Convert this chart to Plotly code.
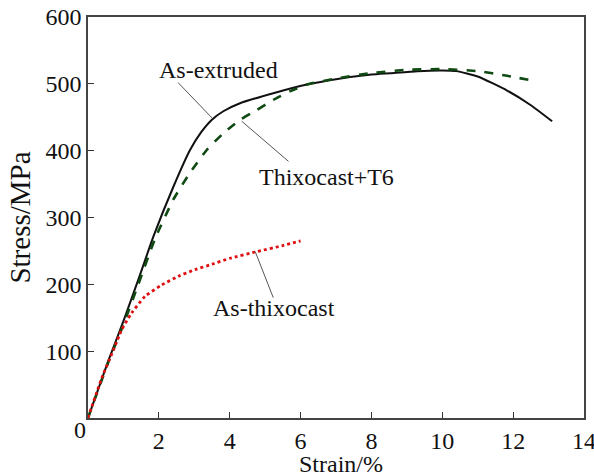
import plotly.graph_objects as go

# As-extruded (black solid)
ext_strain = [0, 0.57, 1.0, 1.42, 1.85, 2.41, 2.88, 3.2, 3.49, 3.82, 4.29, 5.23, 6.18, 7.0, 8.0, 8.53, 9.3, 10.0, 10.4, 11.0, 11.83, 12.5, 13.1]
ext_stress = [0, 85, 145, 207, 272, 346, 401, 428, 446, 459, 471, 486, 499, 507, 514, 516, 519, 520, 519, 511, 490, 468, 444]

# Thixocast+T6 (green dashed)
t6_strain = [0, 0.57, 1.0, 1.42, 1.89, 2.41, 2.88, 3.35, 3.82, 4.29, 4.77, 5.23, 5.71, 6.18, 7.0, 8.0, 9.0, 10.0, 11.0, 11.83, 12.63]
t6_stress = [0, 83, 140, 200, 268, 327, 367, 401, 426, 446, 461, 476, 489, 499, 508, 516, 521, 522, 519, 512, 504]

# As-thixocast (red dotted)
thx_strain = [0, 0.39, 0.72, 0.95, 1.23, 1.61, 2.08, 2.55, 3.02, 3.5, 4.01, 4.77, 5.5, 6.0]
thx_stress = [0, 60, 102, 132, 157, 182, 199, 212, 222, 230, 239, 249, 258, 265]

x_ticks = [2, 4, 6, 8, 10, 12, 14]
y_ticks = [100, 200, 300, 400, 500, 600]

x_title = "Strain/%"
y_title = "Stress/MPa"

# label text, text position, leader line (curve point -> text end)
labels = [
    ("As-extruded", 3.69, 521, (3.50, 449), (2.54, 502)),
    ("Thixocast+T6", 6.72, 361, (4.34, 444), (5.66, 384)),
    ("As-thixocast", 5.25, 165, (4.72, 249), (5.23, 180)),
]

FONT = "Liberation Serif, Times New Roman, serif"
FS = 24

fig = go.Figure()
fig.add_trace(go.Scatter(x=ext_strain, y=ext_stress, mode="lines",
                         line=dict(color="#111111", width=2, shape="spline", smoothing=0.5)))
fig.add_trace(go.Scatter(x=t6_strain, y=t6_stress, mode="lines",
                         line=dict(color="#0e4a12", width=2.6, dash="dash", shape="spline", smoothing=0.5)))
fig.add_trace(go.Scatter(x=thx_strain, y=thx_stress, mode="lines",
                         line=dict(color="#e01010", width=2.8, dash="dot", shape="spline", smoothing=0.5)))

for text, tx, ty, p0, p1 in labels:
    fig.add_shape(type="line", x0=p0[0], y0=p0[1], x1=p1[0], y1=p1[1],
                  line=dict(color="#555555", width=1))
    fig.add_annotation(x=tx, y=ty, text=text, showarrow=False,
                       font=dict(family=FONT, size=FS, color="#111111"))

# shared origin label
fig.add_annotation(xref="paper", yref="paper", x=0, y=0, xanchor="center", yanchor="middle",
                   xshift=-8, yshift=-12, text="0", showarrow=False,
                   font=dict(family=FONT, size=FS, color="#111111"))

# x-axis title
fig.add_annotation(xref="paper", yref="paper", x=0.5, y=0, xanchor="center", yanchor="middle",
                   xshift=5, yshift=-46, text=x_title, showarrow=False,
                   font=dict(family=FONT, size=FS, color="#111111"))

fig.update_layout(
    width=594, height=472,
    margin=dict(l=88, r=10, t=17, b=54),
    paper_bgcolor="white", plot_bgcolor="white",
    showlegend=False,
    font=dict(family=FONT, size=FS, color="#111111"),
)
fig.update_xaxes(range=[0, 14], tickvals=x_ticks, ticks="inside", ticklen=6, tickcolor="#333",
                 showline=True, linecolor="#444", linewidth=1.5, mirror=True, showgrid=False,
                 zeroline=False, automargin=False, ticklabeloverflow="allow",
                 tickfont=dict(family=FONT, size=FS))
fig.update_yaxes(range=[0, 600], tickvals=y_ticks, ticks="inside", ticklen=6, tickcolor="#333",
                 showline=True, linecolor="#444", linewidth=1.5, mirror=True, showgrid=False,
                 zeroline=False, automargin=False, ticklabeloverflow="allow",
                 title=dict(text=y_title, standoff=6),
                 tickfont=dict(family=FONT, size=FS))

# remove the browser's default 8px body margin so the figure fills the window exactly
fig.write_html("out.html", config={"displayModeBar": False},
               post_script="document.body.style.margin='0';document.body.style.overflow='hidden';")
